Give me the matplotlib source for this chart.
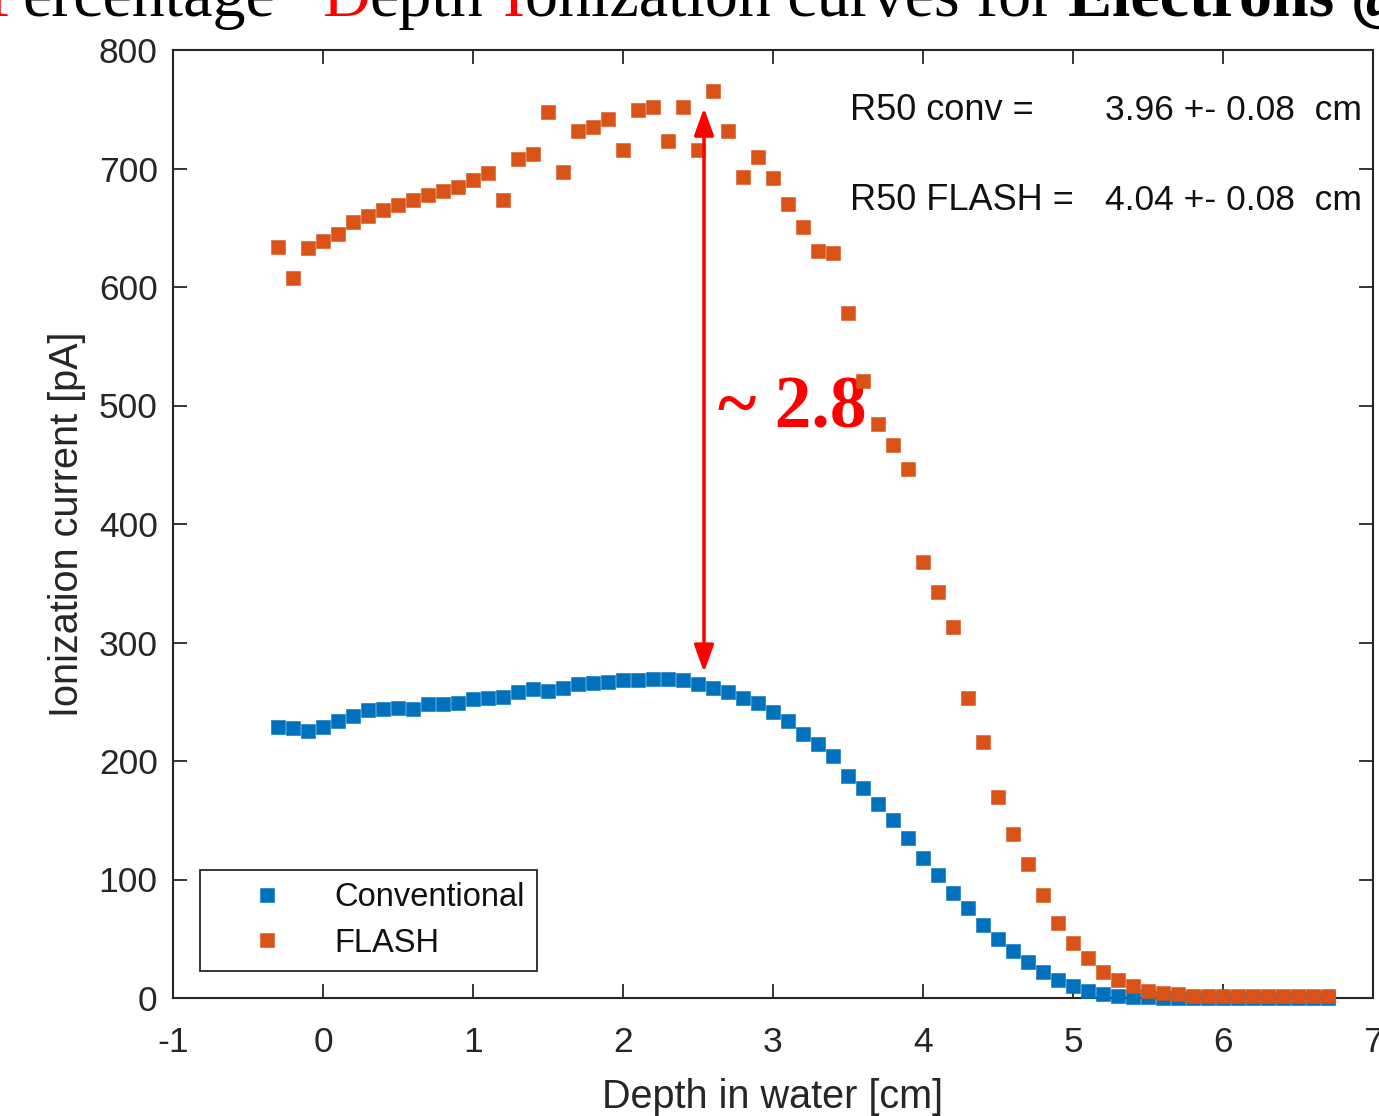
import matplotlib
matplotlib.use('Agg')
import matplotlib.pyplot as plt

# ---------------- data ----------------
depth_cm = [-0.3, -0.2, -0.1, 0.0, 0.1, 0.2, 0.3, 0.4, 0.5, 0.6, 0.7, 0.8, 0.9,
            1.0, 1.1, 1.2, 1.3, 1.4, 1.5, 1.6, 1.7, 1.8, 1.9, 2.0, 2.1, 2.2,
            2.3, 2.4, 2.5, 2.6, 2.7, 2.8, 2.9, 3.0, 3.1, 3.2, 3.3, 3.4, 3.5,
            3.6, 3.7, 3.8, 3.9, 4.0, 4.1, 4.2, 4.3, 4.4, 4.5, 4.6, 4.7, 4.8,
            4.9, 5.0, 5.1, 5.2, 5.3, 5.4, 5.5, 5.6, 5.7, 5.8, 5.9, 6.0, 6.1,
            6.2, 6.3, 6.4, 6.5, 6.6, 6.7]

conventional_pA = [229, 228, 225, 229, 234, 238, 243, 244, 245, 244, 248, 248, 249,
                   252, 253, 254, 258, 261, 259, 262, 265, 266, 267, 268, 268, 269,
                   269, 268, 265, 262, 258, 253, 249, 241, 234, 223, 214, 204, 187,
                   177, 164, 150, 135, 118, 104, 89, 76, 62, 50, 40, 30, 22,
                   15, 10, 6, 3.5, 2, 1, 0.5, 0.3, 0.3, 0.3, 0.3, 0.3, 0.3,
                   0.3, 0.3, 0.3, 0.3, 0.3, 0.3]

flash_pA = [634, 608, 633, 639, 645, 655, 660, 665, 669, 673, 678, 681, 684,
            690, 696, 673, 708, 712, 748, 697, 732, 735, 742, 716, 749, 752,
            723, 752, 716, 765, 732, 693, 710, 692, 670, 651, 630, 629, 578,
            521, 484, 467, 446, 368, 343, 313, 253, 216, 170, 138, 113, 87,
            63, 46, 34, 22, 15, 10, 6, 4, 3, 2, 1.5, 1.5, 1.5,
            1.5, 1.5, 1.5, 1.5, 1.5, 1.5]

series_labels = ['Conventional', 'FLASH']
x_ticks = [-1, 0, 1, 2, 3, 4, 5, 6, 7]
y_ticks = [0, 100, 200, 300, 400, 500, 600, 700, 800]

r50_lines = [('R50 conv =', '3.96 +- 0.08  cm'),
             ('R50 FLASH =', '4.04 +- 0.08  cm')]
ratio_text = '~ 2.8'
arrow_x, arrow_top, arrow_bottom = 2.54, 751, 275

title_runs = [
    [('P', 'red', 'normal'), ('ercentage', 'black', 'normal')],
    [('D', 'red', 'normal'), ('epth', 'black', 'normal')],
    [('I', 'red', 'normal'), ('onization curves for', 'black', 'normal')],
    [('Electrons @', 'black', 'bold')],
]
title_group_x_px = [-14, 322, 503, 1068]

# ---------------- style ----------------
BLUE = '#0072BD'
ORANGE = '#D95319'
AXC = '#262626'
plt.rcParams['font.family'] = ['Liberation Sans', 'DejaVu Sans']

W, H = 1379, 1116
fig = plt.figure(figsize=(W / 100, H / 100), dpi=100)
ax = fig.add_axes([173 / W, 1 - 998 / H, 1200 / W, 948 / H])

ms = 9.4
ax.plot(depth_cm, conventional_pA, linestyle='none', marker='s', ms=ms,
        color=BLUE, mec=BLUE, mew=0.4, clip_on=False, zorder=3, label=series_labels[0])
ax.plot(depth_cm, flash_pA, linestyle='none', marker='s', ms=ms,
        color=ORANGE, mec=ORANGE, mew=0.4, clip_on=False, zorder=3.1, label=series_labels[1])

ax.set_xlim(-1, 7)
ax.set_ylim(0, 800)
ax.set_xticks(x_ticks)
ax.set_yticks(y_ticks)
ax.set_xticklabels([str(t) for t in x_ticks])
ax.set_yticklabels([str(t) for t in y_ticks])

for sp in ax.spines.values():
    sp.set_color(AXC)
    sp.set_linewidth(1.5)
ax.tick_params(direction='in', length=10, width=1.3, color=AXC, labelcolor=AXC,
               labelsize=25.5, top=True, right=True)
ax.tick_params(axis='y', pad=11)
ax.tick_params(axis='x', pad=20)

ax.set_xlabel('Depth in water [cm]', fontsize=28.5, color=AXC, labelpad=14)
ax.set_ylabel('Ionization current [pA]', fontsize=28.5, color=AXC, labelpad=9)

# legend
leg = ax.legend(loc='lower left', bbox_to_anchor=(27 / 1200, 27 / 948),
                borderaxespad=0, fontsize=23.5, frameon=True, fancybox=False,
                edgecolor=AXC, framealpha=1, borderpad=0.38, handlelength=3.37,
                handletextpad=0.37, labelspacing=0.44)
leg.get_frame().set_linewidth(1.3)
for t in leg.get_texts():
    t.set_color('#111111')

# R50 annotations
for i, (lab, val) in enumerate(r50_lines):
    yfrac = (998 - (111 + 90 * i)) / 948
    ax.text((850 - 173) / 1200, yfrac, lab, transform=ax.transAxes,
            fontsize=26, color='#111111', va='center', ha='left')
    ax.text((1105 - 173) / 1200, yfrac, val, transform=ax.transAxes,
            fontsize=25.5, color='#111111', va='center', ha='left')

# arrow + ratio
ax.annotate('', xy=(arrow_x, arrow_top), xytext=(arrow_x, arrow_bottom),
            arrowprops=dict(arrowstyle='<|-|>,head_length=0.55,head_width=0.2',
                            mutation_scale=30, color='red', lw=2.5,
                            shrinkA=0, shrinkB=0),
            zorder=4)
ax.text((718 - 173) / 1200, (998 - 428) / 948, ratio_text, transform=ax.transAxes,
        fontsize=53, fontweight='bold', color='red', family='Liberation Serif',
        va='baseline', ha='left', zorder=2.9)

# title (cut off at top, as in reference)
fig.canvas.draw()
renderer = fig.canvas.get_renderer()
base_y = 1 - 16 / H
for group, gx in zip(title_runs, title_group_x_px):
    xpx = gx
    for txt, col, wt in group:
        t = fig.text(xpx / W, base_y, txt, fontsize=47.5, color=col, fontweight=wt,
                     family='Liberation Serif', va='baseline', ha='left')
        bb = t.get_window_extent(renderer=renderer)
        xpx += bb.width

fig.savefig('out.png', dpi=100)
